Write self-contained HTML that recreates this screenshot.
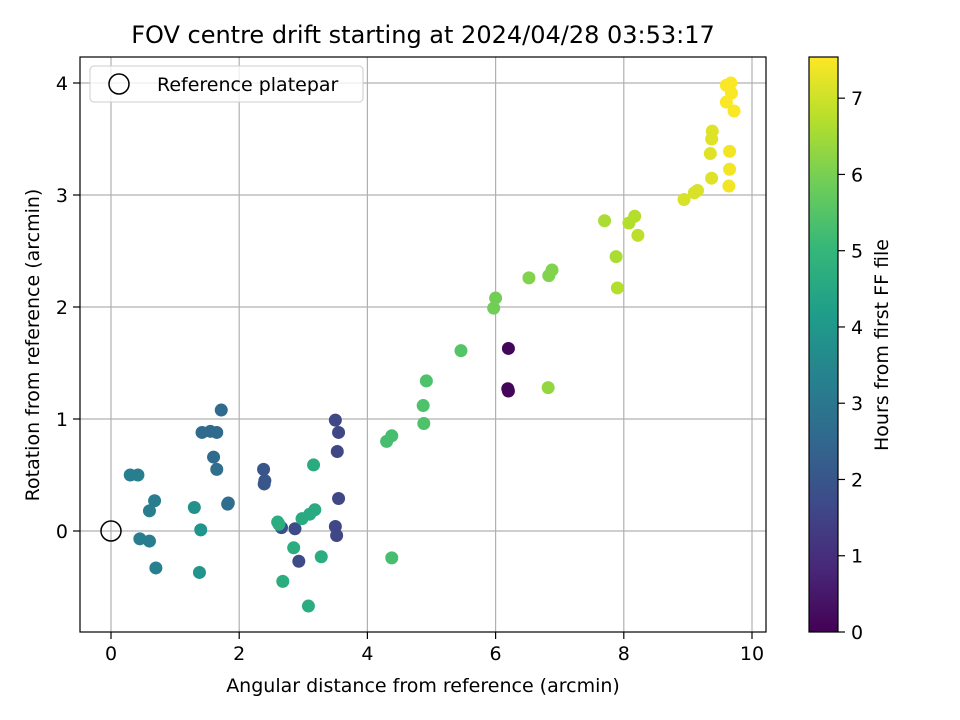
<!DOCTYPE html>
<html><head><meta charset="utf-8"><style>
body{margin:0;background:#fff}
svg{display:block;font-family:"DejaVu Sans","Liberation Sans",sans-serif}
</style></head><body>
<svg id="chart" width="960" height="720">
<text x="423" y="43" font-size="24" text-anchor="middle">FOV centre drift starting at 2024/04/28 03:53:17</text>
<g id="grid"></g><g id="pts"></g><g id="axes"></g><g id="cbar"></g>
</svg>
<script>
const xs=[6.2,6.19,6.2, 3.5,3.55,3.53,3.55,3.5,3.52,2.93,2.87,2.66,2.38,2.4,2.39, 1.72,1.42,1.55,1.65,1.6,1.65,1.82,1.83, 0.3,0.42,0.68,0.6,0.45,0.6,0.7, 1.3,1.4,1.38, 3.16,3.18,3.1,2.98,2.6,2.62,2.85,3.28,2.68,3.08, 4.38,4.3,4.38,4.87,4.88,4.92,5.46, 5.97,6.0,6.52,6.83,6.88,6.82, 7.7,7.88,7.9,8.08,8.17,8.22, 8.94,9.1,9.15,9.37,9.38,9.35,9.37, 9.6,9.67,9.6,9.68,9.72,9.65,9.65,9.64];
const ys=[1.63,1.27,1.25, 0.99,0.88,0.71,0.29,0.04,-0.04,-0.27,0.02,0.03,0.55,0.45,0.42, 1.08,0.88,0.89,0.88,0.66,0.55,0.24,0.25, 0.5,0.5,0.27,0.18,-0.07,-0.09,-0.33, 0.21,0.01,-0.37, 0.59,0.19,0.15,0.11,0.08,0.06,-0.15,-0.23,-0.45,-0.67, -0.24,0.8,0.85,1.12,0.96,1.34,1.61, 1.99,2.08,2.26,2.28,2.33,1.28, 2.77,2.45,2.17,2.75,2.81,2.64, 2.96,3.02,3.04,3.5,3.57,3.37,3.15, 3.98,4.0,3.83,3.91,3.75,3.39,3.23,3.08];
const hours=[0.1,0.1,0.1, 1.6,1.6,1.6,1.6,1.6,1.6,1.7,1.7,1.8,2.0,2.0,2.0, 2.6,2.6,2.6,2.6,2.6,2.7,2.7,2.7, 3.2,3.2,3.2,3.2,3.2,3.2,3.3, 3.8,3.9,3.9, 4.6,4.6,4.6,4.6,4.7,4.7,4.7,4.7,4.7,4.7, 5.3,5.3,5.3,5.4,5.4,5.4,5.5, 5.9,5.9,6.1,6.1,6.1,6.3, 6.6,6.6,6.7,6.7,6.7,6.8, 7.1,7.1,7.1,7.2,7.2,7.2,7.2, 7.5,7.5,7.5,7.5,7.5,7.4,7.4,7.4];
const xTicks=[0,2,4,6,8,10], yTicks=[0,1,2,3,4], cTicks=[0,1,2,3,4,5,6,7];
const X0=80,X1=766,Y0=57,Y1=632;
const sx=v=>111+v*64.1, sy=v=>531-v*112;
const CMAX=7.54, sc=v=>632-v/CMAX*575;
const V=[[68,1,84],[72,40,120],[62,74,137],[49,104,142],[38,130,142],[31,158,137],[53,183,121],[109,205,89],[180,222,44],[253,231,37]];
function vir(t){t=Math.max(0,Math.min(1,t))*9;const i=Math.min(8,Math.floor(t)),f=t-i;const c=V[i].map((a,k)=>Math.round(a+(V[i+1][k]-a)*f));return `rgb(${c})`;}
const NS="http://www.w3.org/2000/svg";
function mk(tag,attrs,parent){const e=document.createElementNS(NS,tag);for(const k in attrs)e.setAttribute(k,attrs[k]);parent.appendChild(e);return e;}
const g=document.getElementById('grid'),p=document.getElementById('pts'),a=document.getElementById('axes'),cb=document.getElementById('cbar');
const FS=19;
xTicks.forEach(t=>{const l=mk('line',{x1:sx(t),x2:sx(t),y1:Y0,y2:Y1,stroke:'#b0b0b0','stroke-width':1.2},g);


mk('line',{x1:sx(t),x2:sx(t),y1:Y1,y2:Y1+7,stroke:'#000','stroke-width':1.2},a);
const tx=mk('text',{x:sx(t),y:Y1+28,'font-size':FS,'text-anchor':'middle'},a);tx.textContent=t;

});
yTicks.forEach(t=>{const l=mk('line',{x1:X0,x2:X1,y1:sy(t),y2:sy(t),stroke:'#b0b0b0','stroke-width':1.2},g);


mk('line',{x1:X0-7,x2:X0,y1:sy(t),y2:sy(t),stroke:'#000','stroke-width':1.2},a);
const tx=mk('text',{x:X0-12,y:sy(t)+7,'font-size':FS,'text-anchor':'end'},a);tx.textContent=t;

});
xs.forEach((x,i)=>{const c=mk('circle',{cx:sx(x),cy:sy(ys[i]),r:6.5,fill:vir(hours[i]/CMAX)},p);

});
const ref=mk('circle',{cx:sx(0),cy:sy(0),r:10,fill:'none',stroke:'#000','stroke-width':1.5},p);


const fr=mk('rect',{x:X0,y:Y0,width:X1-X0,height:Y1-Y0,fill:'none',stroke:'#000','stroke-width':1.2},a);


const lg=mk('g',{},a);


mk('rect',{x:90,y:66,width:273,height:36,rx:4,fill:'#fff','fill-opacity':0.8,stroke:'#ccc'},lg);
mk('circle',{cx:119,cy:84,r:10,fill:'none',stroke:'#000','stroke-width':1.5},lg);
const lt=mk('text',{x:157,y:91,'font-size':FS},lg);lt.textContent='Reference platepar';


const xt=mk('text',{x:423,y:692,'font-size':FS,'text-anchor':'middle'},a);xt.textContent='Angular distance from reference (arcmin)';


const yt=mk('text',{x:0,y:0,'font-size':FS,'text-anchor':'middle',transform:'translate(39,345) rotate(-90)'},a);yt.textContent='Rotation from reference (arcmin)';


const defs=mk('defs',{},cb);const gr=mk('linearGradient',{id:'vg',x1:0,y1:1,x2:0,y2:0},defs);
V.forEach((c,i)=>mk('stop',{offset:i/9,'stop-color':`rgb(${c})`},gr));
const cr=mk('rect',{x:809,y:Y0,width:29,height:Y1-Y0,fill:'url(#vg)',stroke:'#000','stroke-width':1.2},cb);


cTicks.forEach(t=>{mk('line',{x1:838,x2:845,y1:sc(t),y2:sc(t),stroke:'#000','stroke-width':1.2},cb);
const tx=mk('text',{x:851,y:sc(t)+7,'font-size':FS},cb);tx.textContent=t;

});
const ct=mk('text',{x:0,y:0,'font-size':FS,'text-anchor':'middle',transform:'translate(888,345) rotate(-90)'},cb);ct.textContent='Hours from first FF file';


</script>
</body></html>
